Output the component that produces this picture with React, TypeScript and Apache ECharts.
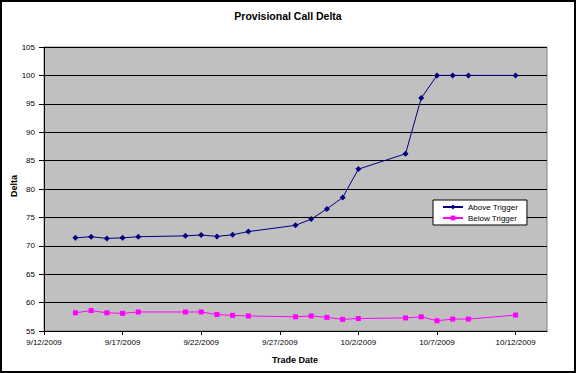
import React, { useEffect, useRef } from "react";
import * as echarts from "echarts";

const tradeDates = [
  "2009-09-14", "2009-09-15", "2009-09-16", "2009-09-17", "2009-09-18",
  "2009-09-21", "2009-09-22", "2009-09-23", "2009-09-24", "2009-09-25",
  "2009-09-28", "2009-09-29", "2009-09-30", "2009-10-01", "2009-10-02",
  "2009-10-05", "2009-10-06", "2009-10-07", "2009-10-08", "2009-10-09",
  "2009-10-12",
];
const aboveTrigger = [
  71.4, 71.6, 71.3, 71.4, 71.6,
  71.75, 71.9, 71.65, 71.95, 72.5,
  73.6, 74.7, 76.5, 78.5, 83.5,
  86.2, 96.0, 100, 100, 100,
  100,
];
const belowTrigger = [
  58.2, 58.6, 58.2, 58.1, 58.35,
  58.35, 58.35, 57.9, 57.75, 57.65,
  57.5, 57.65, 57.4, 57.05, 57.2,
  57.3, 57.5, 56.8, 57.1, 57.1,
  57.8,
];
const tickDates = ["2009-09-12", "2009-09-17", "2009-09-22", "2009-09-27", "2009-10-02", "2009-10-07", "2009-10-12"];
const xMinDate = "2009-09-12";
const xMaxDate = "2009-10-14";

const ts = (s: string) => {
  const [y, m, d] = s.split("-").map(Number);
  return Date.UTC(y, m - 1, d);
};
const fmt = (v: number) => {
  const d = new Date(v);
  return `${d.getUTCMonth() + 1}/${d.getUTCDate()}/${d.getUTCFullYear()}`;
};

const FONT = "Arial, 'Liberation Sans', sans-serif";

export default function App() {
  const ref = useRef<HTMLDivElement>(null);
  useEffect(() => {
    if (!ref.current) return;
    const chart = echarts.init(ref.current, null, { renderer: "svg" });
    const ticks = tickDates.map(ts);
    chart.setOption({
      animation: false,
      backgroundColor: "#ffffff",
      textStyle: { fontFamily: FONT },
      grid: {
        left: 44, top: 47, right: 29, bottom: 42,
        show: true, backgroundColor: "#C0C0C0", borderColor: "#808080", borderWidth: 1,
      },
      xAxis: {
        type: "value",
        min: ts(xMinDate),
        max: ts(xMaxDate),
        axisLine: { show: true, onZero: false, lineStyle: { color: "#000", width: 1 } },
        axisTick: { show: true, inside: false, length: 4, customValues: ticks, lineStyle: { color: "#000" } },
        axisLabel: {
          customValues: ticks, formatter: (v: number) => fmt(v),
          fontSize: 8, color: "#000", fontFamily: FONT, margin: 7,
        },
        splitLine: { show: false },
      },
      yAxis: {
        type: "value",
        min: 55, max: 105, interval: 5,
        axisLine: { show: true, lineStyle: { color: "#000", width: 1 } },
        axisTick: { show: true, inside: false, length: 5, lineStyle: { color: "#000" } },
        axisLabel: { fontSize: 8, color: "#000", fontFamily: FONT, margin: 9 },
        splitLine: { show: true, lineStyle: { color: "#000", width: 1 } },
      },
      legend: {
        orient: "vertical",
        left: 433, top: 200,
        backgroundColor: "#ffffff",
        borderColor: "#000",
        borderWidth: 1,
        padding: [3, 9, 3, 9],
        itemGap: 3,
        itemWidth: 20,
        itemHeight: 6,
        textStyle: { fontSize: 8, color: "#000", fontFamily: FONT },
        data: ["Above Trigger", "Below Trigger"],
      },
      graphic: [
        {
          type: "text", x: 288, y: 16,
          style: { text: "Provisional Call Delta", font: `bold 10.5px ${FONT}`, fill: "#000", align: "center", verticalAlign: "middle" },
        },
        {
          type: "text", x: 295, y: 360,
          style: { text: "Trade Date", font: `bold 9px ${FONT}`, fill: "#000", align: "center", verticalAlign: "middle" },
        },
        {
          type: "text", x: 14, y: 186, rotation: Math.PI / 2,
          style: { text: "Delta", font: `bold 9px ${FONT}`, fill: "#000", align: "center", verticalAlign: "middle" },
        },
        {
          type: "rect", shape: { x: 1, y: 1, width: 574, height: 371 },
          style: { fill: "none", stroke: "#000", lineWidth: 2 }, silent: true, z: 100,
        },
      ],
      series: [
        {
          name: "Above Trigger",
          type: "line",
          data: tradeDates.map((d, i) => [ts(d), aboveTrigger[i]]),
          symbol: "diamond", symbolSize: 6,
          itemStyle: { color: "#000080" },
          lineStyle: { color: "#000080", width: 1 },
        },
        {
          name: "Below Trigger",
          type: "line",
          data: tradeDates.map((d, i) => [ts(d), belowTrigger[i]]),
          symbol: "rect", symbolSize: 5,
          itemStyle: { color: "#FF00FF" },
          lineStyle: { color: "#FF00FF", width: 1 },
        },
      ],
    });
    return () => chart.dispose();
  }, []);
  return <div ref={ref} style={{ position: "fixed", left: 0, top: 0, width: 576, height: 373 }} />;
}
